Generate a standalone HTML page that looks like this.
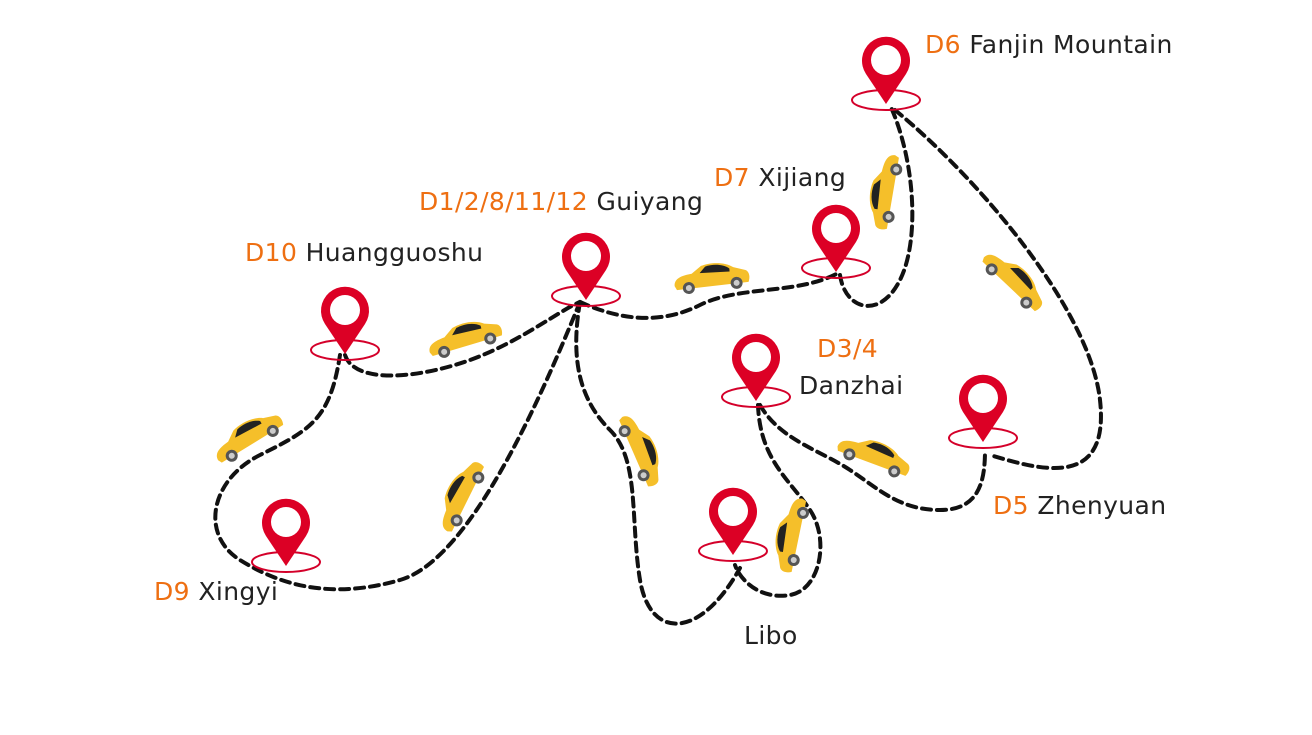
<!DOCTYPE html>
<html><head><meta charset="utf-8"><style>
html,body{margin:0;padding:0;background:#fff;}
svg{display:block}
text{font-family:"DejaVu Sans","Liberation Sans",sans-serif;font-size:25px;letter-spacing:0.4px;fill:#222}
.o{fill:#ee6f12}
</style></head><body>
<svg width="1312" height="735" viewBox="0 0 1312 735" xmlns="http://www.w3.org/2000/svg">
<defs>
<g id="pin">
  <ellipse cx="0" cy="40" rx="34" ry="10" fill="none" stroke="#d4002a" stroke-width="2"/>
  <path d="M0,44 L-20,14 A24,24 0 1 1 20,14 Z" fill="#dc0025"/>
  <circle cx="0" cy="0" r="15" fill="#fff"/>
</g>
<g id="car">
  <path d="M-38,6 C-38,-2 -30,-4 -20,-5 L-10,-12 C0,-15 14,-14 22,-8 L34,-4 C38,-2 38,4 36,8 L-36,10 Z" fill="#f5bf2a"/>
  <path d="M-12,-5 L-6,-11 C2,-13 12,-12 18,-7 L18,-4 Z" fill="#222"/>
  <circle cx="-24" cy="9" r="6" fill="#555"/><circle cx="-24" cy="9" r="3" fill="#ccc"/>
  <circle cx="24" cy="8" r="6" fill="#555"/><circle cx="24" cy="8" r="3" fill="#ccc"/>
</g>
</defs>
<g fill="none" stroke="#111" stroke-width="4" stroke-dasharray="9,6" stroke-linecap="round">
<path d="M345,355 C355,385 420,378 470,360 S560,310 580,302"/>
<path d="M580,302 C620,320 660,325 700,305 S800,295 840,272"/>
<path d="M840,275 C845,310 880,320 900,280 S915,160 890,105"/>
<path d="M895,110 C980,180 1090,310 1100,400 S1040,470 990,455"/>
<path d="M580,302 C570,360 580,400 610,430 S630,520 640,580 S700,640 740,568"/>
<path d="M580,302 C540,400 470,560 400,580 S280,585 240,560 S210,480 260,455 S330,420 340,355"/>
<path d="M758,405 C760,460 790,480 810,510 S820,590 790,595 S740,580 735,565"/>
<path d="M760,405 C780,440 820,450 850,470 S900,510 940,510 S985,480 985,450"/>
</g>
<use href="#car" transform="translate(712,277) rotate(-5)"/>
<use href="#car" transform="translate(465,337) rotate(-15)"/>
<use href="#car" transform="translate(248,436) rotate(-30)"/>
<use href="#car" transform="translate(460,495) rotate(-62)"/>
<use href="#car" transform="translate(642,450) rotate(68)"/>
<use href="#car" transform="translate(884,192) rotate(98) scale(1,-1)"/>
<use href="#car" transform="translate(1015,280) rotate(45)"/>
<use href="#car" transform="translate(875,455) rotate(22)"/>
<use href="#car" transform="translate(790,535) rotate(100) scale(1,-1)"/>
<use href="#pin" x="886" y="60"/>
<use href="#pin" x="836" y="228"/>
<use href="#pin" x="586" y="256"/>
<use href="#pin" x="345" y="310"/>
<use href="#pin" x="756" y="357"/>
<use href="#pin" x="983" y="398"/>
<use href="#pin" x="286" y="522"/>
<use href="#pin" x="733" y="511"/>
<text x="925" y="53"><tspan class="o">D6</tspan> Fanjin Mountain</text>
<text x="714" y="186"><tspan class="o">D7</tspan> Xijiang</text>
<text x="419" y="210"><tspan class="o">D1/2/8/11/12</tspan> Guiyang</text>
<text x="245" y="261"><tspan class="o">D10</tspan> Huangguoshu</text>
<text x="817" y="357" class="o">D3/4</text>
<text x="799" y="394">Danzhai</text>
<text x="993" y="514"><tspan class="o">D5</tspan> Zhenyuan</text>
<text x="154" y="600"><tspan class="o">D9</tspan> Xingyi</text>
<text x="744" y="644">Libo</text>
</svg>
</body></html>
